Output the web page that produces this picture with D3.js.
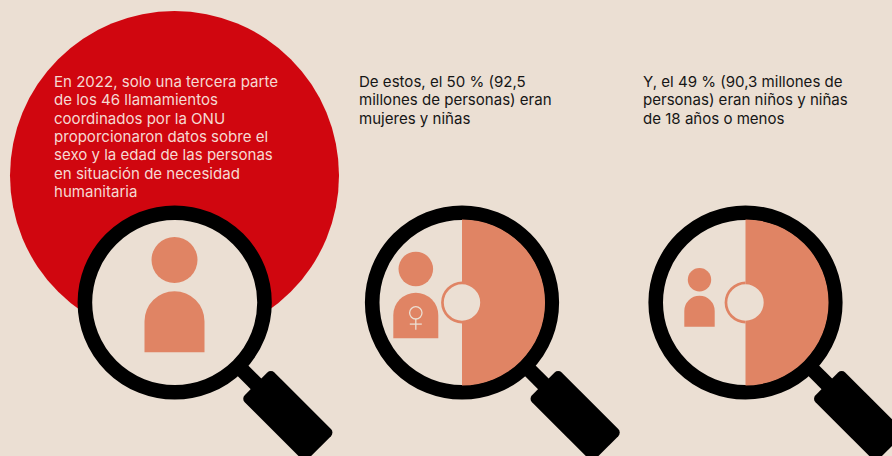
<!DOCTYPE html>
<html>
<head>
<meta charset="utf-8">
<script src="https://cdn.jsdelivr.net/npm/d3@7"></script>
<style>
  html, body { margin: 0; padding: 0; background: #ebdfd3; overflow: hidden; }
  svg { display: block; }
  text { font-family: "Inter", "Liberation Sans", sans-serif; font-size: 15.05px; }
</style>
</head>
<body>
<svg id="chart"></svg>
<script>
// data
const firstLines = ['En 2022, solo una tercera parte', 'de los 46 llamamientos', 'coordinados por la ONU',
  'proporcionaron datos sobre el', 'sexo y la edad de las personas', 'en situación de necesidad', 'humanitaria'];
const secondLines = ['De estos, el 50 % (92,5', 'millones de personas) eran', 'mujeres y niñas'];
const thirdLines = ['Y, el 49 % (90,3 millones de', 'personas) eran niños y niñas', 'de 18 años o menos'];
const panelLines = [firstLines, secondLines, thirdLines];
const lensShares = [0, 50, 50];   // part of the lens that is filled, in percent

// layout
const width = 892, height = 456;
const bg = '#ebdfd3', red = '#d0060f', salmon = '#e08464';
const lensX = [174.7, 462, 745.5], lensY = 302.5;
const textX = [54, 359, 643];
const textColor = ['#f6d9d2', '#161616', '#161616'];
const people = [
  { cx: 174.5, headY: 260, headR: 23, top: 291.3, bottom: 352.3, bodyR: 30 },
  { cx: 415.8, headY: 269, headR: 17.3, top: 292.7, bottom: 338.3, bodyR: 22.5 },
  { cx: 699.5, headY: 279.7, headR: 11.7, top: 295.7, bottom: 326.7, bodyR: 15.2 }
];

const svg = d3.select('#chart').attr('width', width).attr('height', height);

svg.append('rect').attr('width', width).attr('height', height).attr('fill', bg);

svg.append('circle')
  .attr('cx', 174.5).attr('cy', 175.5).attr('r', 164.5)
  .attr('fill', red);

const angle = d3.scaleLinear().domain([0, 100]).range([0, 2 * Math.PI]);
const fillArc = d3.arc().innerRadius(18.2).outerRadius(83);
const ringArc = d3.arc().innerRadius(18.2).outerRadius(20.9);

const lenses = svg.selectAll('g.lens')
  .data(lensShares)
  .enter()
  .append('g')
  .attr('class', 'lens')
  .attr('transform', (d, i) => `translate(${lensX[i]},${lensY})`);

// handle first so the ring sits over it
const handle = lenses.append('g').attr('transform', 'rotate(45)');
handle.append('rect').attr('x', 88).attr('y', -7.5).attr('width', 32).attr('height', 15).attr('fill', '#000');
handle.append('rect').attr('x', 115).attr('y', -21).attr('width', 90).attr('height', 42).attr('rx', 5).attr('fill', '#000');

lenses.append('circle').attr('r', 89.8).attr('fill', bg).attr('stroke', '#000').attr('stroke-width', 14.6);

lenses.filter(d => d > 0).append('path')
  .attr('fill', salmon)
  .attr('d', d => fillArc({ startAngle: 0, endAngle: angle(d) }));
lenses.filter(d => d > 0).append('path')
  .attr('fill', salmon)
  .attr('d', d => ringArc({ startAngle: angle(d), endAngle: angle(100) }));

function bodyPath(p) {
  const path = d3.path();
  path.moveTo(p.cx - p.bodyR, p.bottom);
  path.lineTo(p.cx - p.bodyR, p.top + p.bodyR);
  path.arc(p.cx, p.top + p.bodyR, p.bodyR, Math.PI, 2 * Math.PI);
  path.lineTo(p.cx + p.bodyR, p.bottom);
  path.closePath();
  return path.toString();
}

svg.selectAll('circle.head')
  .data(people)
  .enter()
  .append('circle')
  .attr('class', 'head')
  .attr('cx', d => d.cx).attr('cy', d => d.headY).attr('r', d => d.headR)
  .attr('fill', salmon);

svg.selectAll('path.body')
  .data(people)
  .enter()
  .append('path')
  .attr('class', 'body')
  .attr('d', bodyPath)
  .attr('fill', salmon);

// female sign on the middle person
const sign = svg.append('g')
  .attr('transform', 'translate(415.8,312.8)')
  .attr('fill', 'none').attr('stroke', bg).attr('stroke-width', 1.3);
sign.append('circle').attr('r', 6.2);
sign.append('line').attr('y1', 6.2).attr('y2', 17);
sign.append('line').attr('x1', -6).attr('x2', 6).attr('y1', 11.3).attr('y2', 11.3);

// text blocks
const blocks = svg.selectAll('text.block')
  .data(panelLines)
  .enter()
  .append('text')
  .attr('class', 'block')
  .attr('fill', (d, i) => textColor[i]);

blocks.each(function (lines, i) {
  d3.select(this).selectAll('tspan')
    .data(lines)
    .enter()
    .append('tspan')
    .attr('x', textX[i])
    .attr('y', (d, j) => 87 + j * 18.35)
    .text(d => d);
});
</script>
</body>
</html>
